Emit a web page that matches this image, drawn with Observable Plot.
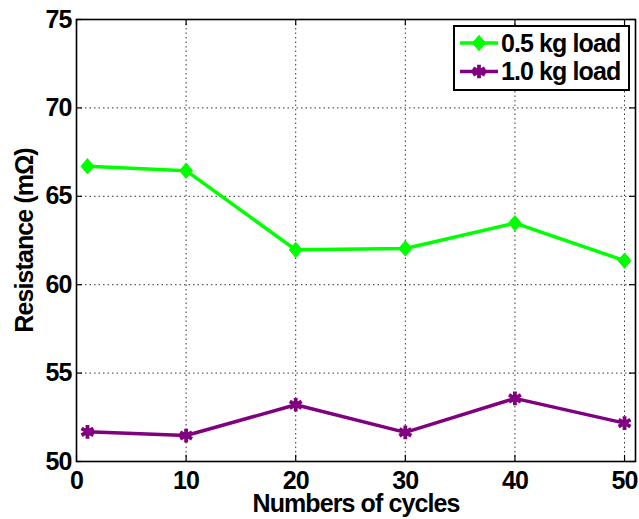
<!DOCTYPE html>
<html>
<head>
<meta charset="utf-8">
<script src="https://cdn.jsdelivr.net/npm/d3@7"></script>
<script src="https://cdn.jsdelivr.net/npm/@observablehq/plot@0.6"></script>
<style>
  html, body { margin: 0; padding: 0; background: #fff; }
  #wrap { position: relative; width: 639px; height: 519px; font-family: "Liberation Sans", Arial, sans-serif; }
  #legend { position: absolute; left: 453px; top: 25px; }
  #legend text { letter-spacing: -0.9px; }
</style>
</head>
<body>
<div id="wrap"></div>
<script>
const cycles = [1, 10, 20, 30, 40, 50];
const load05 = [66.7, 66.45, 61.97, 62.05, 63.48, 61.36];
const load10 = [51.68, 51.47, 53.21, 51.65, 53.57, 52.17];
const seriesNames = ["0.5 kg load", "1.0 kg load"];
const seriesColors = ["#00ff00", "#800080"];
const xTicks = [0, 10, 20, 30, 40, 50];
const yTicks = [50, 55, 60, 65, 70, 75];
const xLabel = "Numbers of cycles";
const yLabel = "Resistance (m\u03A9)";

const d05 = cycles.map((c, i) => ({x: c, y: load05[i]}));
const d10 = cycles.map((c, i) => ({x: c, y: load10[i]}));

// MATLAB-like diamond (slightly narrower than tall)
const matDiamond = {
  draw(ctx, size) {
    const h = Math.sqrt(size / 1.68);
    const w = h * 0.84;
    ctx.moveTo(0, -h); ctx.lineTo(w, 0); ctx.lineTo(0, h); ctx.lineTo(-w, 0); ctx.closePath();
  }
};

const font = "'Liberation Sans', Arial, sans-serif";
const fs = 25;

const chart = Plot.plot({
  width: 639,
  height: 519,
  marginLeft: 76,
  marginTop: 19,
  marginRight: 4,
  marginBottom: 58,
  x: {domain: [0, 51]},
  y: {domain: [50, 75]},
  style: {fontFamily: font, fontSize: fs + "px", fontWeight: "bold", color: "#000", background: "#fff", letterSpacing: "-0.9px"},
  marks: [
    Plot.gridX(xTicks.slice(1), {stroke: "#000", strokeOpacity: 0.8, strokeWidth: 1, strokeDasharray: "1.5,3"}),
    Plot.gridY(yTicks.slice(1, -1), {stroke: "#000", strokeOpacity: 0.8, strokeWidth: 1, strokeDasharray: "1.5,3"}),
    // inward tick marks on all four sides
    Plot.ruleX(xTicks, {x: d => d, y1: 50, y2: 50.35, stroke: "#000", strokeWidth: 1.2}),
    Plot.ruleX(xTicks, {x: d => d, y1: 74.65, y2: 75, stroke: "#000", strokeWidth: 1.2}),
    Plot.ruleY(yTicks, {y: d => d, x1: 0, x2: 0.55, stroke: "#000", strokeWidth: 1.2}),
    Plot.ruleY(yTicks, {y: d => d, x1: 50.45, x2: 51, stroke: "#000", strokeWidth: 1.2}),
    Plot.frame({stroke: "#000", strokeWidth: 1.6}),
    Plot.axisX({ticks: xTicks, tickSize: 0, tickPadding: 10, label: null, fontSize: fs, tickFormat: d => String(d)}),
    Plot.axisY({ticks: yTicks, tickSize: 0, tickPadding: 5, label: null, fontSize: fs, tickFormat: d => String(d)}),
    Plot.text([xLabel], {frameAnchor: "bottom", dy: 42, lineAnchor: "middle", textAnchor: "middle", text: d => d, fontSize: fs, fontWeight: "bold"}),
    Plot.text([yLabel], {frameAnchor: "left", dx: -52, rotate: -90, lineAnchor: "middle", textAnchor: "middle", text: d => d, fontSize: fs, fontWeight: "bold"}),
    Plot.line(d05, {x: "x", y: "y", stroke: seriesColors[0], strokeWidth: 3.5}),
    Plot.dot(d05, {x: "x", y: "y", symbol: matDiamond, r: 5.6, fill: seriesColors[0], stroke: seriesColors[0], strokeWidth: 1}),
    Plot.line(d10, {x: "x", y: "y", stroke: seriesColors[1], strokeWidth: 3.5}),
    Plot.dot(d10, {x: "x", y: "y", symbol: "asterisk", r: 6.5, stroke: seriesColors[1], strokeWidth: 3.8, fill: seriesColors[1]})
  ]
});

const wrap = document.getElementById("wrap");
wrap.appendChild(chart);

// Legend
const ns = "http://www.w3.org/2000/svg";
const lg = document.createElementNS(ns, "svg");
lg.setAttribute("id", "legend");
lg.setAttribute("width", 178);
lg.setAttribute("height", 67);
const box = document.createElementNS(ns, "rect");
box.setAttribute("x", 1); box.setAttribute("y", 1);
box.setAttribute("width", 175); box.setAttribute("height", 64);
box.setAttribute("fill", "#fff"); box.setAttribute("stroke", "#000"); box.setAttribute("stroke-width", 2);
lg.appendChild(box);
const rowsY = [18, 46.5];
seriesNames.forEach((name, i) => {
  const y = rowsY[i];
  const ln = document.createElementNS(ns, "line");
  ln.setAttribute("x1", 7); ln.setAttribute("x2", 45);
  ln.setAttribute("y1", y); ln.setAttribute("y2", y);
  ln.setAttribute("stroke", seriesColors[i]); ln.setAttribute("stroke-width", 3.5);
  lg.appendChild(ln);
  const p = document.createElementNS(ns, "path");
  if (i === 0) {
    const path = d3.path(); matDiamond.draw(path, Math.PI * 5.6 * 5.6);
    p.setAttribute("d", path.toString());
    p.setAttribute("fill", seriesColors[0]);
    p.setAttribute("stroke", seriesColors[0]);
  } else {
    p.setAttribute("d", d3.symbol(d3.symbolAsterisk, Math.PI * 6.5 * 6.5)());
    p.setAttribute("fill", seriesColors[1]);
    p.setAttribute("stroke", seriesColors[1]);
    p.setAttribute("stroke-width", 3.8);
  }
  p.setAttribute("transform", `translate(26,${y})`);
  lg.appendChild(p);
  const t = document.createElementNS(ns, "text");
  t.setAttribute("x", 48); t.setAttribute("y", y);
  t.setAttribute("dy", "0.35em");
  t.setAttribute("font-family", font);
  t.setAttribute("font-size", fs);
  t.setAttribute("font-weight", "bold");
  t.textContent = name;
  lg.appendChild(t);
});
wrap.appendChild(lg);
</script>
</body>
</html>
